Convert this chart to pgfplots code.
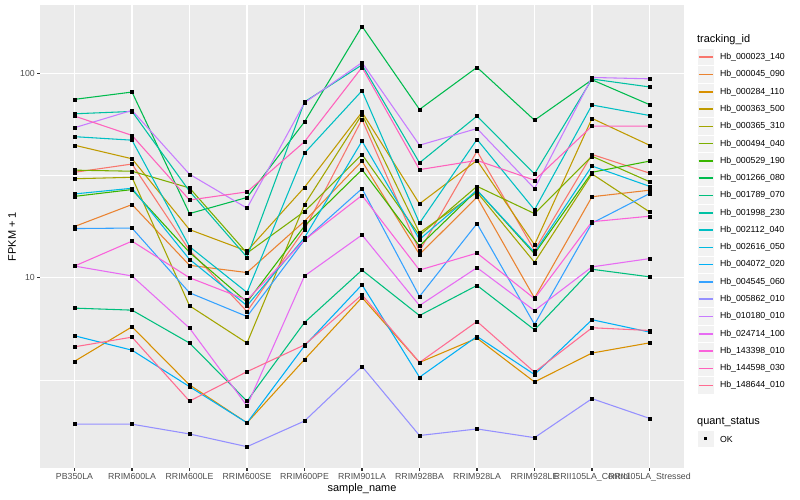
\documentclass[border=0pt]{standalone}
\usepackage{fontspec}
\setmainfont{Liberation Sans}
\usepackage{pgfplots}
\pgfplotsset{compat=1.18}
\usepackage{pgfplotstable}

% ggplot hue palette, 20 levels
\definecolor{c000023}{HTML}{F8766D}
\definecolor{c000045}{HTML}{EA8331}
\definecolor{c000284}{HTML}{D89000}
\definecolor{c000363}{HTML}{C09B00}
\definecolor{c000365}{HTML}{A3A500}
\definecolor{c000494}{HTML}{7CAE00}
\definecolor{c000529}{HTML}{39B600}
\definecolor{c001266}{HTML}{00BB4E}
\definecolor{c001789}{HTML}{00BF7D}
\definecolor{c001998}{HTML}{00C1A3}
\definecolor{c002112}{HTML}{00BFC4}
\definecolor{c002616}{HTML}{00BAE0}
\definecolor{c004072}{HTML}{00B0F6}
\definecolor{c004545}{HTML}{35A2FF}
\definecolor{c005862}{HTML}{9590FF}
\definecolor{c010180}{HTML}{C77CFF}
\definecolor{c024714}{HTML}{E76BF3}
\definecolor{c143398}{HTML}{FA62DB}
\definecolor{c144598}{HTML}{FF62BC}
\definecolor{c148644}{HTML}{FF6C91}
\definecolor{panel}{HTML}{EBEBEB}
\definecolor{keybg}{HTML}{F2F2F2}
\definecolor{ticktext}{HTML}{4D4D4D}
\definecolor{tickline}{HTML}{333333}

% FPKM + 1, one row per sample (0 = PB350LA ... 10 = RRII105LA_Stressed)
\pgfplotstableread{
x  t000023 t000045 t000284 t000363 t000365 t000494 t000529 t001266 t001789 t001998 t002112 t002616 t004072 t004545 t005862 t010180 t024714 t143398 t144598 t148644
0  32.8    17.8    3.90    44.5    30.5    33.6    25.0    74.6    7.10    63.4    49.0    25.7    5.20    17.4    1.92    54.2    11.4    11.4    61.8    4.59
1  36.0    22.8    5.75    38.2    31.0    33.2    27.0    81.0    6.94    65.1    47.1    27.4    4.42    17.5    1.92    65.9    10.2    15.1    49.7    5.12
2  13.6    11.5    2.99    17.2    7.29    27.5    13.3    20.6    4.79    26.5    14.2    12.3    2.93    8.44    1.72    32.1    5.67    10.0    24.0    2.49
3  6.84    10.6    1.95    13.5    4.79    13.2    7.60    24.7    2.49    12.6    8.47    7.30    1.95    6.46    1.49    21.9    2.36    7.78    26.3    3.47
4  17.2    18.9    3.98    27.7    22.8    21.1    17.9    57.9    6.04    72.5    40.7    15.7    4.64    15.3    1.99    71.8    10.2    15.3    46.3    4.69
5  59.5    37.2    8.00    64.6    62.9    40.1    33.8    170     10.9    110     82.2    46.6    9.24    27.3    3.68    113     16.2    25.3    107     8.25
6  13.5    13.0    3.85    23.0    16.6    16.1    14.3    66.6    6.53    36.5    18.5    15.4    3.26    8.10    1.69    44.5    7.31    10.9    33.8    3.85
7  41.6    24.8    5.06    37.5    26.2    28.0    26.8    107     9.17    61.8    47.5    26.8    5.16    18.4    1.82    53.7    11.2    13.2    37.5    6.11
8  13.6    7.95    3.09    14.5    11.9    20.6    13.1    59.0    5.56    32.2    21.5    13.3    3.36    5.91    1.65    27.3    6.90    7.90    30.0    3.45
9  40.1    24.9    4.28    60.2    32.2    39.3    32.8    93.0    11.0    93.8    70.0    35.2    6.23    18.5    2.56    95.5    11.3    18.8    55.2    5.69
10 32.5    26.8    4.80    44.5    21.0    29.5    37.2    70.3    10.1    85.8    62.2    28.0    5.42    25.8    2.05    94.0    12.4    20.0    55.2    5.52
}\fpkm

\newcommand{\ticfont}{\fontsize{8.8}{10}\selectfont}
\newcommand{\titfont}{\fontsize{11}{13}\selectfont}

\begin{document}
\begin{tikzpicture}
\path[use as bounding box] (0bp,0bp) rectangle (800bp,500bp);
\begin{axis}[
    at={(40bp,32bp)}, anchor=south west,
    scale only axis, width=644bp, height=463bp,
    xmin=-0.6, xmax=10.6,
    ymode=log, ymin=1.172, ymax=216,
    axis background/.style={fill=panel},
    axis line style={draw=none},
    xtick={0,...,10},
    xticklabels={PB350LA,RRIM600LA,RRIM600LE,RRIM600SE,RRIM600PE,RRIM901LA,RRIM928BA,RRIM928LA,RRIM928LE,RRII105LA\_Control,RRII105LA\_Stressed},
    ytick={10,100}, yticklabels={10,100},
    minor ytick={3.1623,31.623},
    grid=both,
    major grid style={white, line width=1.07bp},
    minor grid style={white, line width=0.53bp},
    tick pos=left, tick align=outside,
    major tick length=2.75bp, minor tick length=0pt,
    every tick/.style={tickline, line width=1.07bp},
    ticklabel style={font=\ticfont, text=ticktext},
    xticklabel style={inner sep=2.2bp},
    yticklabel style={inner sep=2.2bp},
    xlabel={sample\_name}, ylabel={FPKM + 1},
    xlabel style={font=\titfont, at={(axis description cs:0.5,0)}, anchor=center, yshift=-21bp},
    ylabel style={font=\titfont, at={(axis description cs:0,0.5)}, anchor=center, yshift=28bp},
    clip=true,
]
\pgfplotsinvokeforeach{000023,000045,000284,000363,000365,000494,000529,001266,001789,001998,002112,002616,004072,004545,005862,010180,024714,143398,144598,148644}{
    \addplot[color=c#1, line width=1.07bp, no marks] table[x=x, y=t#1] {\fpkm};
}
\pgfplotsinvokeforeach{000023,000045,000284,000363,000365,000494,000529,001266,001789,001998,002112,002616,004072,004545,005862,010180,024714,143398,144598,148644}{
    \addplot[only marks, mark=square*, mark size=1.5bp, black] table[x=x, y=t#1] {\fpkm};
}
\end{axis}

% legends, drawn beside the panel
\begin{scope}[x=1bp, y=1bp]
\node[anchor=west, inner sep=0, font=\titfont] at (697,460) {tracking\_id};
\foreach \n/\c [count=\i from 0] in {
    Hb\_000023\_140/c000023, Hb\_000045\_090/c000045, Hb\_000284\_110/c000284,
    Hb\_000363\_500/c000363, Hb\_000365\_310/c000365, Hb\_000494\_040/c000494,
    Hb\_000529\_190/c000529, Hb\_001266\_080/c001266, Hb\_001789\_070/c001789,
    Hb\_001998\_230/c001998, Hb\_002112\_040/c002112, Hb\_002616\_050/c002616,
    Hb\_004072\_020/c004072, Hb\_004545\_060/c004545, Hb\_005862\_010/c005862,
    Hb\_010180\_010/c010180, Hb\_024714\_100/c024714, Hb\_143398\_010/c143398,
    Hb\_144598\_030/c144598, Hb\_148644\_010/c148644} {
  \pgfmathsetmacro\yy{442.7-17.28*\i}
  \filldraw[fill=keybg, draw=white, line width=1bp] (697,\yy-8.64) rectangle (714.28,\yy+8.64);
  \draw[\c, line width=1.6bp] (698.7,\yy) -- (712.6,\yy);
  \node[anchor=west, inner sep=0, font=\ticfont] at (719.8,\yy) {\n};
}
\node[anchor=west, inner sep=0, font=\titfont] at (697,78) {quant\_status};
\filldraw[fill=keybg, draw=white, line width=1bp] (697,52.4) rectangle (714.28,69.7);
\fill[black] (704.1,59.5) rectangle (707.1,62.5);
\node[anchor=west, inner sep=0, font=\ticfont] at (719.8,61) {OK};
\end{scope}
\end{tikzpicture}
\end{document}
